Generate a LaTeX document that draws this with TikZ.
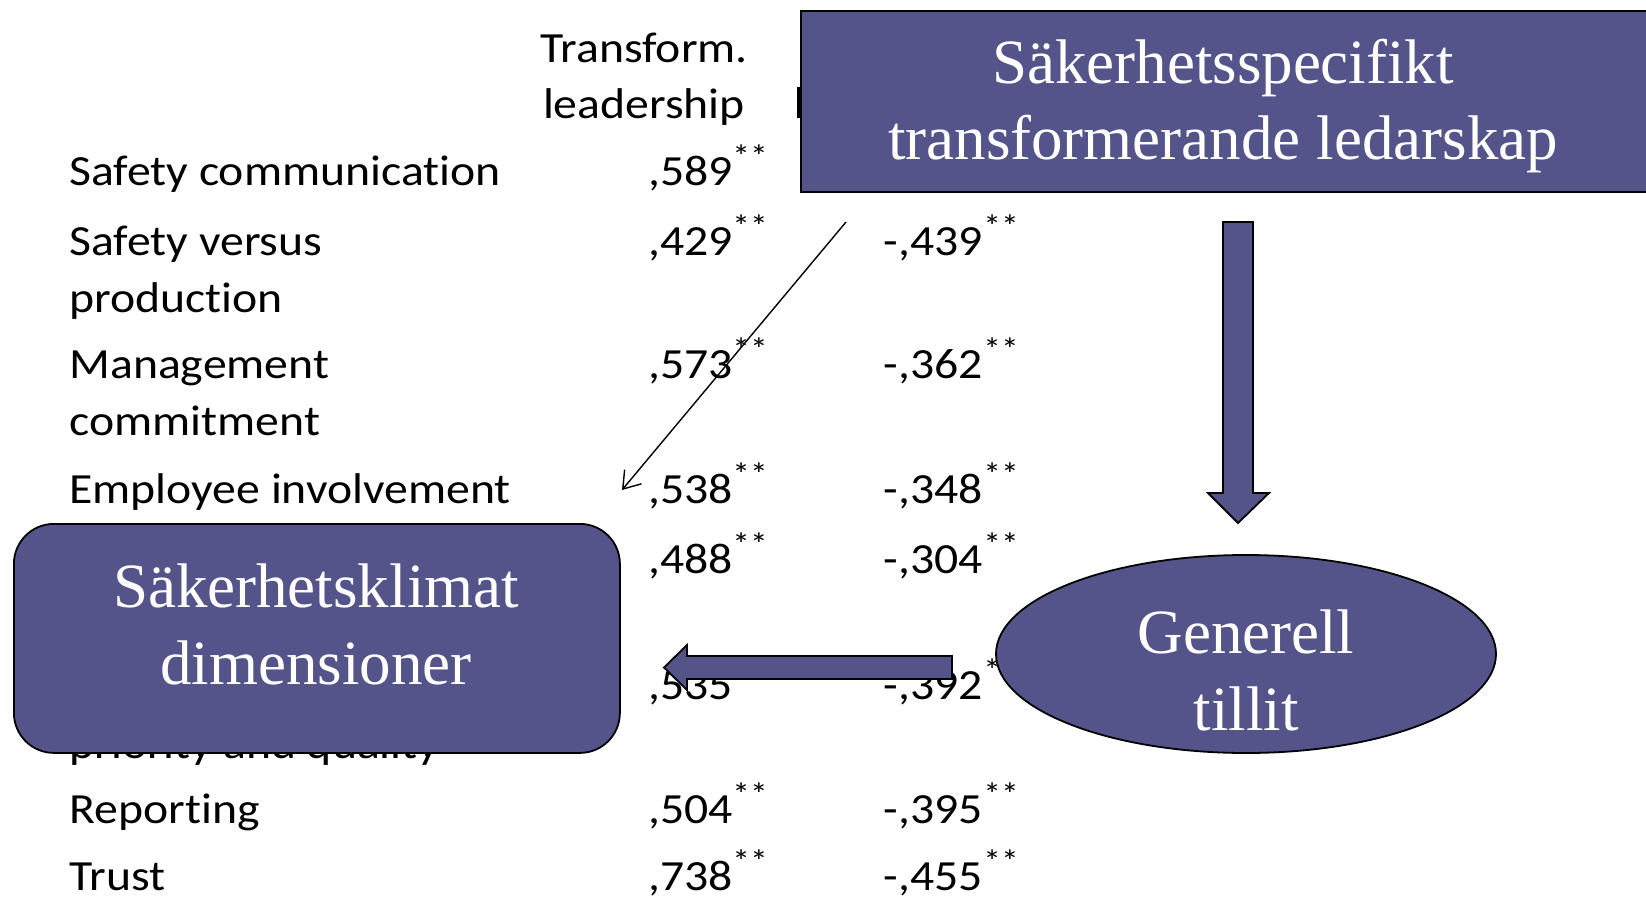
\documentclass[tikz,border=0pt]{standalone}
\usepackage{fontspec}
\setmainfont{Carlito}[FakeStretch=1.11, Ligatures=NoCommon]
\newfontfamily\boxfont{Liberation Serif}
\usetikzlibrary{arrows.meta,shapes.geometric}
\definecolor{boxblue}{RGB}{84,84,138}
\begin{document}
\begin{tikzpicture}[x=0.5pt,y=-0.5pt,
  tabtext/.style={anchor=base west, inner sep=0pt, font=\fontsize{21.5}{24}\selectfont},
  hdr/.style={anchor=base, inner sep=0pt, font=\fontsize{21.5}{24}\selectfont},
  val/.style={anchor=base east, inner sep=0pt, font=\fontsize{21.5}{24}\selectfont},
  stars/.style={anchor=base west, inner sep=0pt, font=\fontsize{16}{16}\selectfont},
  bluebox/.style={draw=black, line width=0.9pt, fill=boxblue},
  boxtext/.style={anchor=base, inner sep=0pt, text=white, font=\boxfont\fontsize{31.5}{38}\selectfont},
  thin/.style={line width=0.7pt, -{Straight Barb[length=8pt,width=11pt]}},
]
\useasboundingbox[fill=white] (0,0) rectangle (1646,901);

% column header
\node[hdr] (h1) at (644,62) {Transform.};
\node[hdr] (h2) at (644,118) {leadership};
\draw[line width=1.2pt] (798.5,87) -- (798.5,118);

% row labels
\node[tabtext] (l1) at (69,185) {Safety communication};
\node[tabtext] (l2) at (69,255) {Safety versus};
\node[tabtext] (l2b) at (69,312) {production};
\node[tabtext] (l3) at (69,378) {Management};
\node[tabtext] (l3b) at (69,435) {commitment};
\node[tabtext] (l4) at (69,503) {Employee involvement};
\node[tabtext] (l6b) at (69,758) {priority and quality};
\node[tabtext] (l7) at (69,823) {Reporting};
\node[tabtext] (l8) at (69,890) {Trust};

% column 1 values
\node[val] (a1) at (733,185) {,589}; \node[stars] (s1) at (732,167) {**};
\node[val] (a2) at (733,255) {,429}; \node[stars] (s2) at (732,237) {**};
\node[val] (a3) at (733,378) {,573}; \node[stars] (s3) at (732,360) {**};
\node[val] (a4) at (733,503) {,538}; \node[stars] (s4) at (732,485) {**};
\node[val] (a5) at (733,573) {,488}; \node[stars] (s5) at (732,555) {**};
\node[val] (a6) at (733,699) {,535}; \node[stars] (s6) at (732,681) {**};
\node[val] (a7) at (733,823) {,504}; \node[stars] (s7) at (732,805) {**};
\node[val] (a8) at (733,890) {,738}; \node[stars] (s8) at (732,872) {**};

% column 2 values
\node[anchor=base west, inner sep=0pt, font=\fontsize{21.5}{24}\selectfont] (b1) at (888,185) {-,};
\node[val] (b2) at (983,255) {-,439}; \node[stars] (t2) at (983,237) {**};
\node[val] (b3) at (983,378) {-,362}; \node[stars] (t3) at (983,360) {**};
\node[val] (b4) at (983,503) {-,348}; \node[stars] (t4) at (983,485) {**};
\node[val] (b5) at (983,573) {-,304}; \node[stars] (t5) at (983,555) {**};
\node[val] (b6) at (983,699) {-,392}; \node[stars] (t6) at (983,681) {**};
\node[val] (b7) at (983,823) {-,395}; \node[stars] (t7) at (983,805) {**};
\node[val] (b8) at (983,890) {-,455}; \node[stars] (t8) at (983,872) {**};

% thin arrow
\coordinate (ts) at (846,222);
\coordinate (te) at (622,490);
\draw[thin] (ts) -- (te);

% top box
\node[bluebox, anchor=north west, minimum width=445pt, minimum height=90.5pt, inner sep=0pt] (tb) at (800,10) {};
\node[boxtext] (tb1) at (1223,83) {Säkerhetsspecifikt};
\node[boxtext] (tb2) at (1223,159) {transformerande ledarskap};

% down block arrow
\draw[bluebox] (1223,222) -- (1253,222) -- (1253,493) -- (1269,493) -- (1238,523) -- (1208,493) -- (1223,493) -- cycle;

% ellipse
\node[bluebox, ellipse, minimum width=250pt, minimum height=99pt, inner sep=0pt] (el) at (1246,654) {};
\node[boxtext] (el1) at (1246,653) {Generell};
\node[boxtext] (el2) at (1246,730) {tillit};

% left block arrow
\draw[bluebox] (952,656) -- (952,679) -- (687,679) -- (687,690) -- (664,667.5) -- (687,645) -- (687,656) -- cycle;

% left box
\node[bluebox, rounded corners=20pt, anchor=north west, minimum width=303pt, minimum height=114.5pt, inner sep=0pt] (lb) at (13,523) {};
\node[boxtext] (lb1) at (316,607) {Säkerhetsklimat};
\node[boxtext] (lb2) at (316,684) {dimensioner};
\end{tikzpicture}
\end{document}
